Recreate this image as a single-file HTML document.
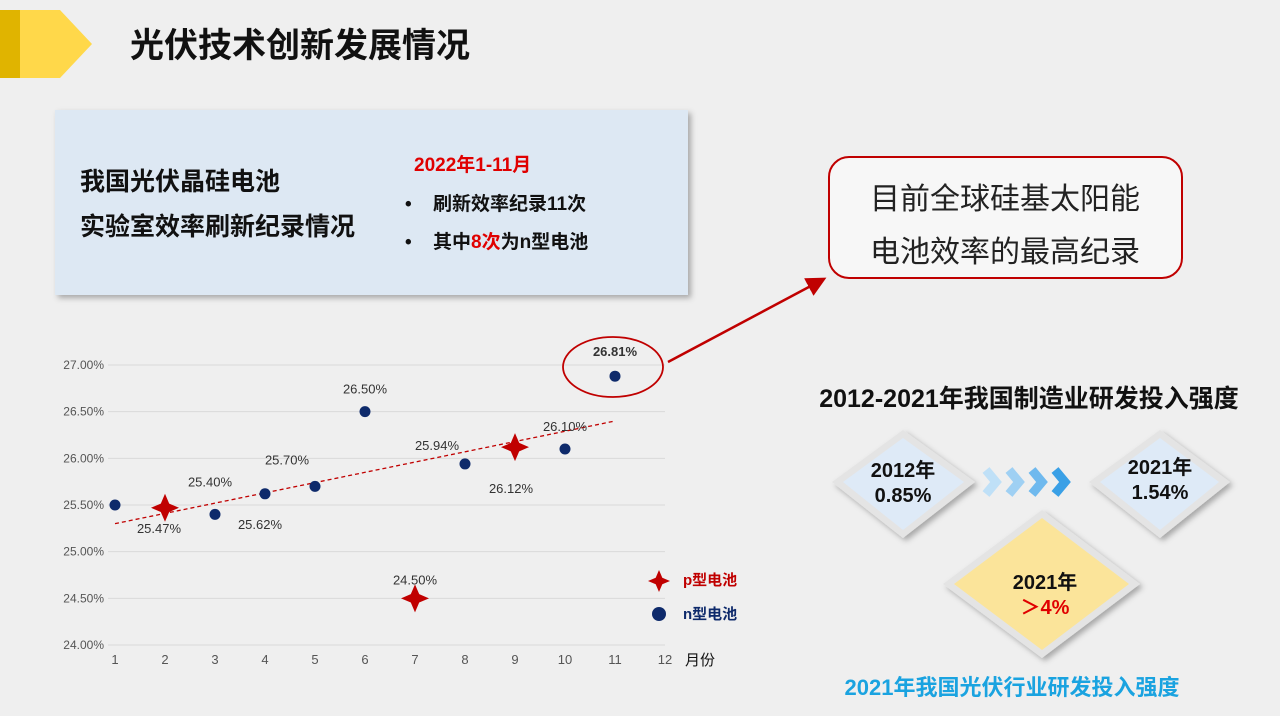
<!DOCTYPE html>
<html><head><meta charset="utf-8">
<style>
body{margin:0;width:1280px;height:716px;overflow:hidden;background:#efefef;font-family:"Liberation Sans","Noto Sans CJK SC",sans-serif;}
svg{display:block}
</style></head>
<body>
<svg width="1280" height="716" xmlns="http://www.w3.org/2000/svg">
<defs>
<filter id="sh" x="-10%" y="-10%" width="130%" height="130%"><feDropShadow dx="3" dy="3" stdDeviation="3" flood-color="#000" flood-opacity="0.3"/></filter>
<marker id="ah" markerWidth="8" markerHeight="8" refX="6" refY="4" orient="auto"><path d="M0,0 L8,4 L0,8 Z" fill="#c00000"/></marker>
</defs>
<rect width="1280" height="716" fill="#efefef"/>
<polygon points="0,10 20,10 20,78 0,78" fill="#e0b400"/>
<polygon points="20,10 60,10 92,44 60,78 20,78" fill="#ffd84a"/>
<text x="130" y="57" font-size="34" font-weight="bold" fill="#111">光伏技术创新发展情况</text>

<g>
<rect x="55" y="110" width="633" height="185" fill="#dde8f3" filter="url(#sh)"/>
<text x="80" y="190" font-size="25" font-weight="bold" fill="#111">我国光伏晶硅电池</text>
<text x="80" y="235" font-size="25" font-weight="bold" fill="#111">实验室效率刷新纪录情况</text>
<text x="414" y="171" font-size="19" font-weight="bold" fill="#e00000">2022年1-11月</text>
<text x="405" y="210" font-size="19" font-weight="bold" fill="#111">•</text>
<text x="433" y="210" font-size="19" font-weight="bold" fill="#111">刷新效率纪录11次</text>
<text x="405" y="248" font-size="19" font-weight="bold" fill="#111">•</text>
<text x="433" y="248" font-size="19" font-weight="bold" fill="#111">其中<tspan fill="#e00000">8次</tspan>为n型电池</text>
</g>

<g>
<rect x="829" y="157" width="353" height="121" rx="20" fill="#f7f7f7" stroke="#c00000" stroke-width="2"/>
<text x="1005" y="209" font-size="30" fill="#222" text-anchor="middle">目前全球硅基太阳能</text>
<text x="1005" y="262" font-size="30" fill="#222" text-anchor="middle">电池效率的最高纪录</text>
</g>
<line x1="668" y1="362" x2="822" y2="280" stroke="#c00000" stroke-width="2.5" marker-end="url(#ah)"/>

<g id="chart"></g>

<text x="1029" y="407" font-size="25" font-weight="bold" fill="#111" text-anchor="middle">2012-2021年我国制造业研发投入强度</text>
<g>
<polygon points="903,430 975,482 903,538 832,482" fill="#e4e4e4" filter="url(#sh)"/>
<polygon points="903,438 964,482 903,530 843,482" fill="#deeaf7"/>
<text x="903" y="477" font-size="20" font-weight="bold" text-anchor="middle" fill="#111">2012年</text>
<text x="903" y="502" font-size="20" font-weight="bold" text-anchor="middle" fill="#111">0.85%</text>
</g>
<g fill="none" stroke-width="9">
<polyline points="986,470 996,482 986,494" stroke="#bfe0f7"/>
<polyline points="1009,470 1019,482 1009,494" stroke="#9fd0f3"/>
<polyline points="1032,470 1042,482 1032,494" stroke="#6fb9ee"/>
<polyline points="1055,470 1065,482 1055,494" stroke="#3aa0e6"/>
</g>
<g>
<polygon points="1160,430 1230,482 1160,538 1089,482" fill="#e4e4e4" filter="url(#sh)"/>
<polygon points="1160,438 1219,482 1160,530 1100,482" fill="#deeaf7"/>
<text x="1160" y="474" font-size="20" font-weight="bold" text-anchor="middle" fill="#111">2021年</text>
<text x="1160" y="499" font-size="20" font-weight="bold" text-anchor="middle" fill="#111">1.54%</text>
</g>
<g>
<polygon points="1042,510 1140,584 1042,658 943,584" fill="#e4e4e4" filter="url(#sh)"/>
<polygon points="1042,518 1129,584 1042,650 954,584" fill="#fbe49a"/>
<text x="1045" y="589" font-size="20" font-weight="bold" text-anchor="middle" fill="#111">2021年</text>
<text x="1045" y="614" font-size="20" font-weight="bold" text-anchor="middle" fill="#e00000">＞4%</text>
</g>
<text x="1012" y="695" font-size="22" font-weight="bold" fill="#1aa3e0" text-anchor="middle">2021年我国光伏行业研发投入强度</text>
</svg>
<script>
const months=[1,2,3,4,5,6,7,8,9,10,11,12];
const yTicks=[24.0,24.5,25.0,25.5,26.0,26.5,27.0];
const pMonths=[2,7,9];
const pValues=[25.47,24.50,26.12];
const nMonths=[1,3,4,5,6,8,10,11];
const nValues=[25.50,25.40,25.62,25.70,26.50,25.94,26.10,26.88];
const nLabels=["","25.40%","25.62%","25.70%","26.50%","25.94%","26.10%","26.81%"];
const pLabels=["25.47%","24.50%","26.12%"];
const trendX=[1,11];
const trendY=[25.30,26.40];

const NS="http://www.w3.org/2000/svg";
const g=document.getElementById('chart');
const X=m=>115+(m-1)*50;
const Y=v=>645-(v-24)*(280/3);
function el(t,a,txt){const e=document.createElementNS(NS,t);for(const k in a)e.setAttribute(k,a[k]);if(txt!==undefined)e.textContent=txt;g.appendChild(e);return e;}
yTicks.forEach(t=>{
 const l=el('line',{x1:108,x2:665,y1:Y(t),y2:Y(t),stroke:'#d9d9d9','stroke-width':1});
 
 
 const tx=el('text',{x:104,y:Y(t)+4,'font-size':12,fill:'#555','text-anchor':'end'},t.toFixed(2)+'%');
 
 
});
months.forEach(m=>{
 const tx=el('text',{x:X(m),y:664,'font-size':13,fill:'#555','text-anchor':'middle'},m);
 
 
});
const xt=el('text',{x:685,y:665,'font-size':15,fill:'#111'},'月份');


const tr=el('line',{x1:X(trendX[0]),y1:Y(trendY[0]),x2:X(trendX[1]),y2:Y(trendY[1]),stroke:'#c00000','stroke-width':1.3,'stroke-dasharray':'4,3'});


function star(cx,cy,r){const s=r*0.3;return `M${cx},${cy-r} L${cx+s},${cy-s} L${cx+r},${cy} L${cx+s},${cy+s} L${cx},${cy+r} L${cx-s},${cy+s} L${cx-r},${cy} L${cx-s},${cy-s} Z`;}
const nOff=[[0,0],[-5,-28],[-5,35],[-28,-22],[0,-18],[-28,-14],[0,-18],[0,-20]];
nMonths.forEach((m,i)=>{
 const c=el('circle',{cx:X(m),cy:Y(nValues[i]),r:5.5,fill:'#0e2a6b'});
 
 
 if(nLabels[i]){
  const t=el('text',{x:X(m)+nOff[i][0],y:Y(nValues[i])+nOff[i][1],'font-size':13,fill:'#333','text-anchor':'middle','font-weight':i==7?'bold':'normal'},nLabels[i]);
  
  
 }
});
const pOff=[[-6,25],[0,-14],[-4,46]];
pMonths.forEach((m,i)=>{
 const p=el('path',{d:star(X(m),Y(pValues[i]),14),fill:'#c00000'});
 
 
 const t=el('text',{x:X(m)+pOff[i][0],y:Y(pValues[i])+pOff[i][1],'font-size':13,fill:'#333','text-anchor':'middle'},pLabels[i]);
 
 
});
const hl=el('ellipse',{cx:613,cy:367,rx:50,ry:30,fill:'none',stroke:'#c00000','stroke-width':1.8});


const lp=el('path',{d:star(659,581,11),fill:'#c00000'});


const lpt=el('text',{x:683,y:585,'font-size':15,'font-weight':'bold',fill:'#c00000'},'p型电池');


const ln=el('circle',{cx:659,cy:614,r:7,fill:'#0e2a6b'});


const lnt=el('text',{x:683,y:619,'font-size':15,'font-weight':'bold',fill:'#0e2a6b'},'n型电池');


</script>
</body></html>
